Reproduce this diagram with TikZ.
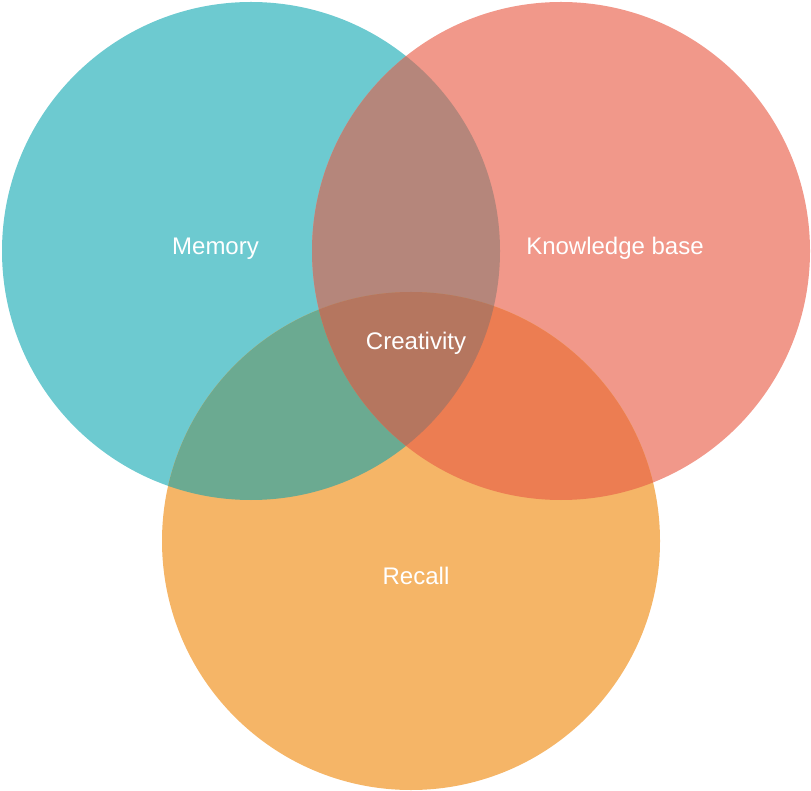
\documentclass[tikz,border=0pt]{standalone}
\usepackage{fontspec}
\setmainfont{Liberation Sans}
\definecolor{cteal}{HTML}{6DCAD0}
\definecolor{csalmon}{HTML}{F1988A}
\definecolor{corange}{HTML}{F5B567}
\definecolor{cmk}{HTML}{B5867B}
\definecolor{cmr}{HTML}{6BAA91}
\definecolor{ckr}{HTML}{EC7D52}
\definecolor{cmkr}{HTML}{B5765F}
\begin{document}
\begin{tikzpicture}[x=1pt,y=-1pt,
  lbl/.style={text=white,font=\fontsize{24}{28}\selectfont,anchor=base,inner sep=0pt}]
\useasboundingbox (0,0) rectangle (811,791);
\def\Mc{(251,251) circle[radius=249]}
\def\Kc{(561,251) circle[radius=249]}
\def\Rc{(411,541) circle[radius=249]}
\fill[cteal] \Mc;
\fill[csalmon] \Kc;
\fill[corange] \Rc;
\begin{scope}\clip \Mc; \fill[cmk] \Kc; \end{scope}
\begin{scope}\clip \Mc; \fill[cmr] \Rc; \end{scope}
\begin{scope}\clip \Kc; \fill[ckr] \Rc; \end{scope}
\begin{scope}\clip \Mc; \clip \Kc; \fill[cmkr] \Rc; \end{scope}
\node[lbl] (memory) at (215.5,255) {Memory};
\node[lbl] (kb) at (615,255) {Knowledge base};
\node[lbl] (creativity) at (416,350) {Creativity};
\node[lbl] (recall) at (416,584) {Recall};
\end{tikzpicture}
\end{document}
